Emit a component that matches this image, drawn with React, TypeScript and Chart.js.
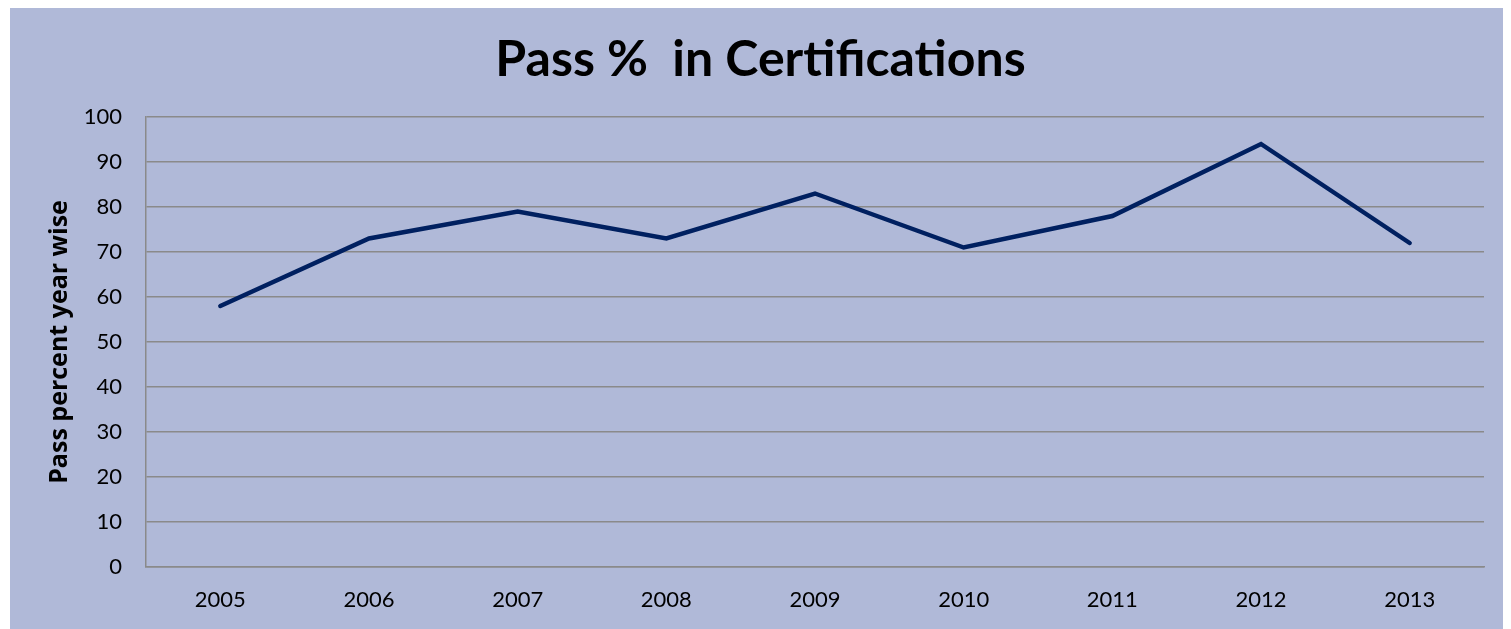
import React, { useEffect, useRef } from "react";
import { Chart, registerables } from "chart.js";

Chart.register(...registerables);

const categories = ["2005", "2006", "2007", "2008", "2009", "2010", "2011", "2012", "2013"];
const passPercent = [58, 73, 79, 73, 83, 71, 78, 94, 72];
const yTicks = [0, 10, 20, 30, 40, 50, 60, 70, 80, 90, 100];
const chartTitle = "Pass %  in Certifications";
const yAxisTitle = "Pass percent year wise";

const W = 1501;
const H = 621;

export default function App() {
  const ref = useRef<HTMLCanvasElement | null>(null);

  useEffect(() => {
    if (!ref.current) return;
    const chart = new Chart(ref.current, {
      type: "line",
      data: {
        labels: categories,
        datasets: [
          {
            label: "Pass %",
            data: passPercent,
            borderColor: "#002060",
            backgroundColor: "#002060",
            borderWidth: 4.5,
            borderCapStyle: "round",
            borderJoinStyle: "miter",
            pointRadius: 0,
            tension: 0,
            fill: false,
            yAxisID: "y",
          },
        ],
      },
      options: {
        responsive: false,
        animation: false,
        layout: { padding: 0 },
        plugins: {
          legend: { display: false },
          tooltip: { enabled: false },
          title: {
            display: true,
            text: chartTitle,
            color: "#000000",
            font: { family: "Lato", size: 50, weight: "bold", lineHeight: 1.2 },
            padding: { top: 22, bottom: 27 },
          },
        },
        scales: {
          x: {
            offset: true,
            grid: { display: false, drawTicks: false },
            border: { display: true, color: "#8a8a8a", width: 1.5 },
            ticks: {
              color: "#000000",
              padding: 19.8,
              maxRotation: 0,
              font: { family: "Lato", size: 22, lineHeight: 1.2 },
            },
            afterFit: (s: any) => {
              s.height = 62;
            },
          },
          y: {
            min: 0,
            max: 100,
            afterBuildTicks: (s: any) => {
              s.ticks = yTicks.map((v) => ({ value: v }));
            },
            grid: { color: "#8a8a8a", lineWidth: 1.5, drawTicks: false },
            border: { display: true, color: "#8a8a8a", width: 1.5 },
            ticks: {
              color: "#000000",
              padding: 24,
              font: { family: "Lato", size: 22, lineHeight: 1.2 },
            },
            title: {
              display: true,
              text: yAxisTitle,
              color: "#000000",
              font: { family: "Open Sans", size: 25, weight: "bold", lineHeight: 1.2 },
              padding: { top: 35, bottom: 0 },
            },
            afterFit: (s: any) => {
              s.width = 136;
            },
          },
          yRightGap: {
            position: "right",
            min: 0,
            max: 100,
            grid: { display: false, drawTicks: false },
            border: { display: false },
            ticks: { display: false },
            afterFit: (s: any) => {
              s.width = 27;
            },
          },
        },
      },
    });
    return () => chart.destroy();
  }, []);

  return (
    <>
      <style>{`html,body{overflow:hidden}`}</style>
      <div style={{ marginLeft: 2, width: W, height: H, background: "#B0B9D8" }}>
        <canvas ref={ref} width={W} height={H} style={{ display: "block", width: W, height: H }} />
      </div>
    </>
  );
}
